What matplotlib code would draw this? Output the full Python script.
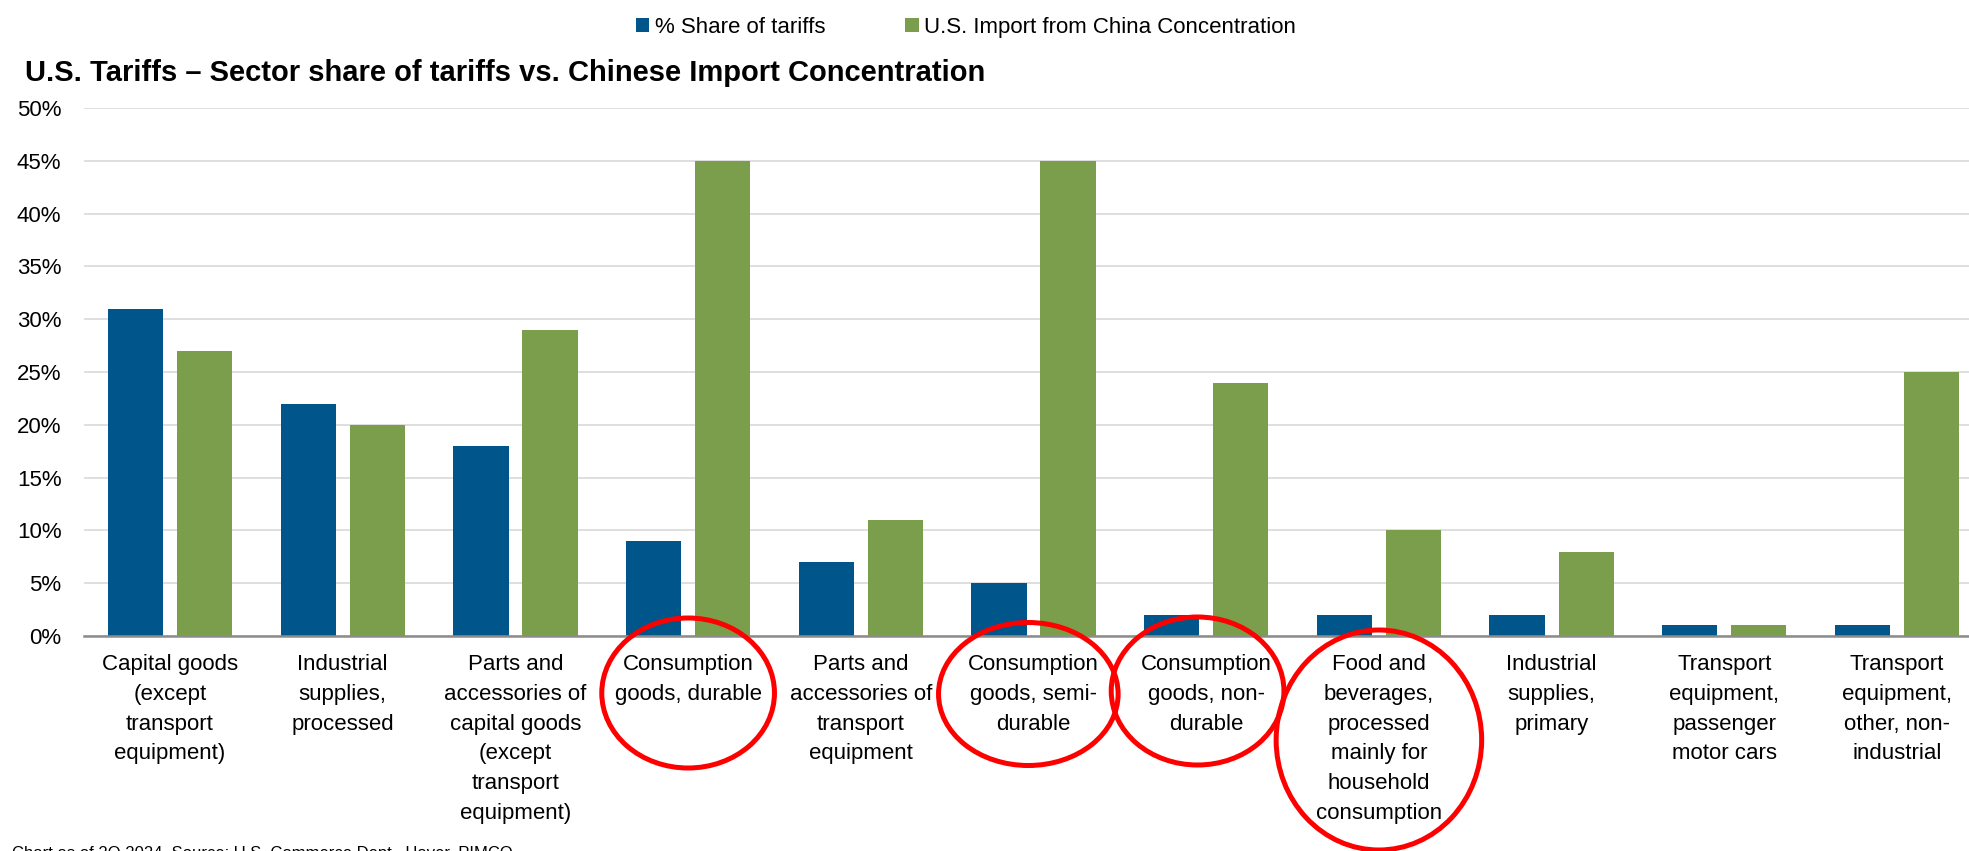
import matplotlib
matplotlib.use('Agg')
import matplotlib.pyplot as plt
import matplotlib.transforms as mtransforms
from matplotlib.patches import Ellipse
import numpy as np

categories = [
    'Capital goods\n(except\ntransport\nequipment)',
    'Industrial\nsupplies,\nprocessed',
    'Parts and\naccessories of\ncapital goods\n(except\ntransport\nequipment)',
    'Consumption\ngoods, durable',
    'Parts and\naccessories of\ntransport\nequipment',
    'Consumption\ngoods, semi-\ndurable',
    'Consumption\ngoods, non-\ndurable',
    'Food and\nbeverages,\nprocessed\nmainly for\nhousehold\nconsumption',
    'Industrial\nsupplies,\nprimary',
    'Transport\nequipment,\npassenger\nmotor cars',
    'Transport\nequipment,\nother, non-\nindustrial',
]
share_of_tariffs = [31, 22, 18, 9, 7, 5, 2, 2, 2, 1, 1]
china_concentration = [27, 20, 29, 45, 11, 45, 24, 10, 8, 1, 25]
y_ticks = [0, 5, 10, 15, 20, 25, 30, 35, 40, 45, 50]
circled = [3, 5, 6, 7]

plt.rcParams['font.family'] = ['Liberation Sans', 'DejaVu Sans']

blue = '#00568A'
green = '#7A9E4B'

fig = plt.figure(figsize=(19.69, 8.51), dpi=100)
ax = fig.add_axes([0.0425, 0.2526, 0.9575, 0.6205])

x = np.arange(len(categories))
b1 = ax.bar(x - 0.2, share_of_tariffs, width=0.32, color=blue, zorder=3,
            label='% Share of tariffs')
b2 = ax.bar(x + 0.2, china_concentration, width=0.32, color=green, zorder=3,
            label='U.S. Import from China Concentration')

ax.set_ylim(0, 50)
ax.set_xlim(-0.5, 10.417)
ax.set_yticks(y_ticks)
ax.set_yticklabels([f'{v}%' for v in y_ticks], fontsize=16)
ax.set_xticks(x)
ax.set_xticklabels(categories, fontsize=16, linespacing=1.55)
ax.tick_params(axis='y', length=0, pad=16)
ax.tick_params(axis='x', length=0, pad=13)
ax.grid(axis='y', color='#D9D9D9', linewidth=1.2, zorder=0)
for side in ['top', 'right', 'left']:
    ax.spines[side].set_visible(False)
ax.spines['bottom'].set_color('#8C8C8C')
ax.spines['bottom'].set_linewidth(1.8)
ax.spines['bottom'].set_zorder(4)

fig.legend(handles=[b1, b2], loc='center', bbox_to_anchor=(0.4906, 0.968),
           ncol=2, frameon=False, fontsize=16, handlelength=0.6,
           handleheight=0.6, handletextpad=0.25, columnspacing=3.6)

fig.text(25 / 1969, 0.9048, 'U.S. Tariffs \u2013 Sector share of tariffs vs. Chinese Import Concentration',
         fontsize=21, fontweight='bold', va='baseline', ha='left')

fig.text(12 / 1969, 0.006, 'Chart as of 2Q 2024. Source: U.S. Commerce Dept., Haver, PIMCO',
         fontsize=12, va='top', ha='left')

# red circles around the highlighted category labels
trans = mtransforms.blended_transform_factory(ax.transData, fig.transFigure)
ell_specs = {3: (0.0, 693, 1.0, 150), 5: (-0.03, 694, 1.04, 143),
             6: (-0.05, 691, 1.0, 148), 7: (0.0, 740, 1.19, 220)}
for i in circled:
    dx, cy, w, h = ell_specs[i]
    e = Ellipse((x[i] + dx, 1 - cy / 851), w, h / 851, transform=trans,
                fill=False, edgecolor='#FF0000', linewidth=3.6, clip_on=False, zorder=5)
    fig.add_artist(e)

fig.savefig('out.png', dpi=100)
